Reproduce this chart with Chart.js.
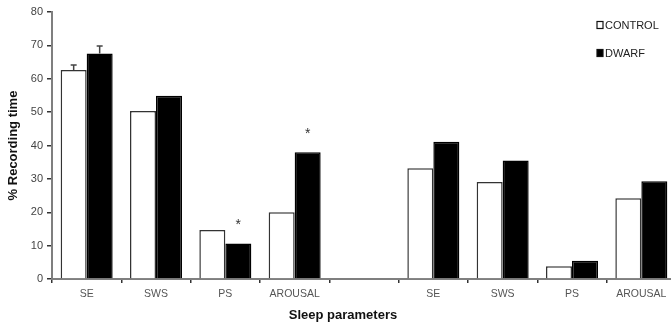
<!DOCTYPE html>
<html lang="en">
<head>
    <meta charset="UTF-8">
    <title>Sleep parameters</title>
    <script src="https://cdn.jsdelivr.net/npm/chart.js"></script>
    <style>
        html, body {
            margin: 0;
            padding: 0;
            background: #fff;
            overflow: hidden;
        }
        #wrap {
            width: 676px;
            height: 325px;
        }
    </style>
</head>
<body>
    <div id="wrap"><canvas id="sleepChart" width="676" height="325"></canvas></div>
    <script>
        // categories (blank slot separates the two panels)
        const categories = ['SE', 'SWS', 'PS', 'AROUSAL', '', 'SE', 'SWS', 'PS', 'AROUSAL'];
        const controlValues = [62.6, 50.3, 14.7, 20.0, null, 33.2, 29.1, 3.8, 24.2];
        const dwarfValues = [67.6, 54.9, 10.6, 38.0, null, 41.1, 35.5, 5.5, 29.3];
        // error bar heights (above the bar), only first SE has them
        const controlErr = [1.5, null, null, null, null, null, null, null, null];
        const dwarfErr = [2.2, null, null, null, null, null, null, null, null];
        // asterisks over dwarf bars
        const dwarfSignificant = [false, false, true, true, false, false, false, false, false];
        const yTicks = [0, 10, 20, 30, 40, 50, 60, 70, 80];
        const xTitle = 'Sleep parameters';

        const FONT = '"Liberation Sans", Arial, sans-serif';
        const axisGray = '#7f7f7f';

        // draws error bars, asterisks, x title and the legend box
        const extras = {
            id: 'extras',
            afterDatasetsDraw(chart) {
                const ctx = chart.ctx;
                const y = chart.scales.y;
                const errs = [controlErr, dwarfErr];
                ctx.save();
                errs.forEach((arr, di) => {
                    const meta = chart.getDatasetMeta(di);
                    arr.forEach((e, i) => {
                        if (e == null) return;
                        const bar = meta.data[i];
                        const v = chart.data.datasets[di].data[i];
                        const top = y.getPixelForValue(v + e);
                        ctx.strokeStyle = '#444';
                        ctx.lineWidth = 1.5;
                        ctx.beginPath();
                        ctx.moveTo(bar.x, bar.y);
                        ctx.lineTo(bar.x, top);
                        ctx.moveTo(bar.x - 3, top);
                        ctx.lineTo(bar.x + 3, top);
                        ctx.stroke();
                    });
                });
                const dm = chart.getDatasetMeta(1);
                ctx.fillStyle = '#333';
                ctx.font = '14px ' + FONT;
                ctx.textAlign = 'center';
                ctx.textBaseline = 'middle';
                dwarfSignificant.forEach((s, i) => {
                    if (!s) return;
                    const bar = dm.data[i];
                    ctx.fillText('*', bar.x, bar.y - 18);
                });

                // x axis title (sits left of the axis centre in the original)
                ctx.fillStyle = '#111';
                ctx.font = 'bold 13px ' + FONT;
                ctx.fillText(xTitle, 343, 315);

                // legend
                ctx.font = '11px ' + FONT;
                ctx.textAlign = 'left';
                chart.data.datasets.forEach((ds, di) => {
                    const ly = 25 + di * 28;
                    ctx.fillStyle = ds.backgroundColor;
                    ctx.strokeStyle = '#111';
                    ctx.lineWidth = 1.2;
                    ctx.fillRect(597, ly - 3.5, 6, 7);
                    ctx.strokeRect(597, ly - 3.5, 6, 7);
                    ctx.fillStyle = '#222';
                    ctx.fillText(ds.label, 605, ly + 1);
                });
                ctx.restore();
            }
        };

        new Chart(document.getElementById('sleepChart'), {
            type: 'bar',
            data: {
                labels: categories,
                datasets: [{
                    label: 'CONTROL',
                    data: controlValues,
                    backgroundColor: '#ffffff',
                    borderColor: '#333333',
                    borderWidth: 1.5,
                    categoryPercentage: 0.75,
                    barPercentage: 1.0
                }, {
                    label: 'DWARF',
                    data: dwarfValues,
                    backgroundColor: '#000000',
                    borderColor: '#000000',
                    borderWidth: 1.5,
                    categoryPercentage: 0.75,
                    barPercentage: 1.0
                }]
            },
            options: {
                responsive: false,
                animation: false,
                layout: { padding: { top: 12, right: 0, left: 0, bottom: 0 } },
                plugins: {
                    legend: { display: false },
                    tooltip: { enabled: false }
                },
                scales: {
                    x: {
                        grid: {
                            drawOnChartArea: false,
                            offset: true,
                            tickLength: 4,
                            color: '#333',
                            lineWidth: 1.5
                        },
                        border: { color: axisGray, width: 2 },
                        ticks: {
                            color: '#555',
                            font: { family: FONT, size: 10.5 },
                            padding: 5,
                            maxRotation: 0,
                            autoSkip: false
                        },
                        afterFit(scale) { scale.height = 46; }
                    },
                    y: {
                        min: 0,
                        max: 80,
                        afterBuildTicks(scale) {
                            scale.ticks = yTicks.map(v => ({ value: v }));
                        },
                        grid: {
                            drawOnChartArea: false,
                            tickLength: 5,
                            color: '#333',
                            lineWidth: 1.5
                        },
                        border: { color: axisGray, width: 2 },
                        ticks: {
                            color: '#444',
                            font: { family: FONT, size: 11 },
                            padding: 4
                        },
                        title: {
                            display: true,
                            text: '% Recording time',
                            color: '#111',
                            font: { family: FONT, size: 13, weight: 'bold' },
                            padding: { top: 6, bottom: 0 }
                        },
                        afterFit(scale) { scale.width = 52; }
                    }
                }
            },
            plugins: [extras]
        });
    </script>
</body>
</html>
